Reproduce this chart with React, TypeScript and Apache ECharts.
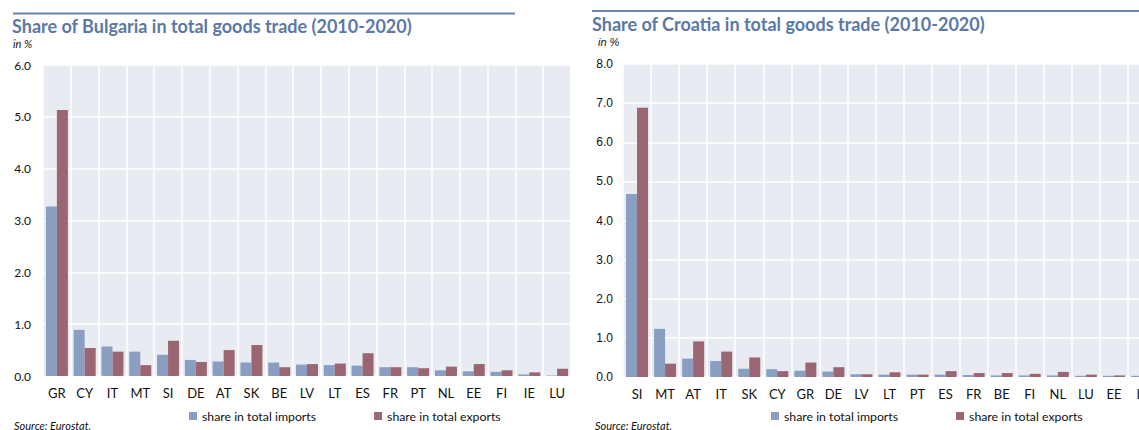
import React, { useEffect, useRef } from "react";
import * as echarts from "echarts";

const bgCategories = ["GR", "CY", "IT", "MT", "SI", "DE", "AT", "SK", "BE", "LV", "LT", "ES", "FR", "PT", "NL", "EE", "FI", "IE", "LU"];
const bgImports = [3.27, 0.89, 0.57, 0.47, 0.41, 0.31, 0.28, 0.26, 0.26, 0.22, 0.21, 0.2, 0.17, 0.17, 0.11, 0.09, 0.08, 0.03, 0.01];
const bgExports = [5.13, 0.54, 0.47, 0.21, 0.68, 0.27, 0.5, 0.6, 0.17, 0.23, 0.24, 0.44, 0.17, 0.15, 0.18, 0.23, 0.11, 0.07, 0.14];

const hrCategories = ["SI", "MT", "AT", "IT", "SK", "CY", "GR", "DE", "LV", "LT", "PT", "ES", "FR", "BE", "FI", "NL", "LU", "EE", "IE"];
const hrImports = [4.68, 1.23, 0.47, 0.41, 0.21, 0.2, 0.16, 0.14, 0.07, 0.06, 0.06, 0.06, 0.05, 0.04, 0.04, 0.04, 0.03, 0.03, 0.03];
const hrExports = [6.88, 0.34, 0.91, 0.65, 0.5, 0.15, 0.37, 0.25, 0.07, 0.12, 0.06, 0.15, 0.1, 0.1, 0.08, 0.13, 0.06, 0.04, 0.03];

const bgYMax = 6;
const hrYMax = 8;
const yInterval = 1;

const importsName = "share in total imports";
const exportsName = "share in total exports";
const bgTitle = "Share of Bulgaria in total goods trade (2010-2020)";
const hrTitle = "Share of Croatia in total goods trade (2010-2020)";

const IMP = "#8a9ec2";
const EXP = "#996672";
const BG = "#e8ebf2";
const TITLE = "#5b78a6";
const FONT = "Lato, 'Open Sans', sans-serif";

export default function App() {
  const ref = useRef<HTMLDivElement>(null);
  useEffect(() => {
    if (!ref.current) return;
    document.body.style.overflow = "hidden";
    const chart = echarts.init(ref.current, undefined, { renderer: "svg" });
    const catAxis = (gridIndex: number, data: string[]) => ({
      type: "category",
      gridIndex,
      data,
      axisLine: { show: false },
      axisTick: { show: false, interval: 0 },
      axisLabel: { interval: 0, color: "#111", fontFamily: FONT, fontSize: 13, margin: 10 },
      splitLine: { show: true, interval: 0, lineStyle: { color: "#ffffff", width: 1.5 } },
    });
    const valAxis = (gridIndex: number, max: number, fam: string, margin: number) => ({
      type: "value",
      gridIndex,
      min: 0,
      max,
      interval: yInterval,
      axisLine: { show: false },
      axisTick: { show: false },
      axisLabel: { color: "#111", fontFamily: fam, fontSize: 12, margin, formatter: (v: number) => v.toFixed(1) },
      splitLine: { show: true, lineStyle: { color: "#ffffff", width: 1.5 } },
    });
    const bar = (name: string, data: number[], color: string, idx: number) => ({
      type: "bar",
      name,
      data,
      xAxisIndex: idx,
      yAxisIndex: idx,
      barWidth: 11,
      barGap: "0%",
      itemStyle: { color },
    });
    const txt = (x: number, y: number, text: string, style: any) => ({
      type: "text",
      x,
      y,
      silent: true,
      style: { text, textVerticalAlign: "middle", ...style },
    });
    const legend = (left: number) => ({
      left, top: 410, padding: 0, icon: "rect", itemWidth: 8, itemHeight: 8, itemGap: 58, selectedMode: false,
      data: [importsName, exportsName], textStyle: { fontFamily: FONT, fontSize: 12.3, color: "#111" },
    });
    chart.setOption({
      animation: false,
      grid: [
        { left: 43, top: 65, width: 528, height: 311, backgroundColor: BG, show: true, borderWidth: 0 },
        { left: 623, top: 64, width: 533, height: 313, backgroundColor: BG, show: true, borderWidth: 0 },
      ],
      xAxis: [catAxis(0, bgCategories), catAxis(1, hrCategories)],
      yAxis: [valAxis(0, bgYMax, FONT, 12), valAxis(1, hrYMax, "'Liberation Sans', Arial, sans-serif", 10)],
      legend: [legend(189), legend(771)],
      series: [
        bar(importsName, bgImports, IMP, 0),
        bar(exportsName, bgExports, EXP, 0),
        bar(importsName, hrImports, IMP, 1),
        bar(exportsName, hrExports, EXP, 1),
      ],
      graphic: [
        { type: "line", silent: true, shape: { x1: 13, y1: 13.5, x2: 515, y2: 13.5 }, style: { stroke: "#6d86b0", lineWidth: 2 } },
        { type: "line", silent: true, shape: { x1: 592, y1: 11, x2: 1170, y2: 11 }, style: { stroke: "#6d86b0", lineWidth: 2 } },
        txt(12, 26, bgTitle, { fill: TITLE, font: `bold 18px ${FONT}` }),
        txt(592, 24, hrTitle, { fill: TITLE, font: `bold 18px ${FONT}` }),
        txt(13, 43, "in %", { fill: "#111", font: `italic 11px ${FONT}` }),
        txt(598, 42, "in %", { fill: "#111", font: `italic 11px 'Liberation Sans', Arial, sans-serif` }),
        txt(14, 425, "Source: Eurostat.", { fill: "#111", font: `italic 11px ${FONT}` }),
        txt(595, 425, "Source: Eurostat.", { fill: "#111", font: `italic 11px ${FONT}` }),
      ],
    });
    return () => chart.dispose();
  }, []);
  return <div ref={ref} style={{ position: "fixed", left: 0, top: 0, width: 1170, height: 430, background: "#fff" }} />;
}
